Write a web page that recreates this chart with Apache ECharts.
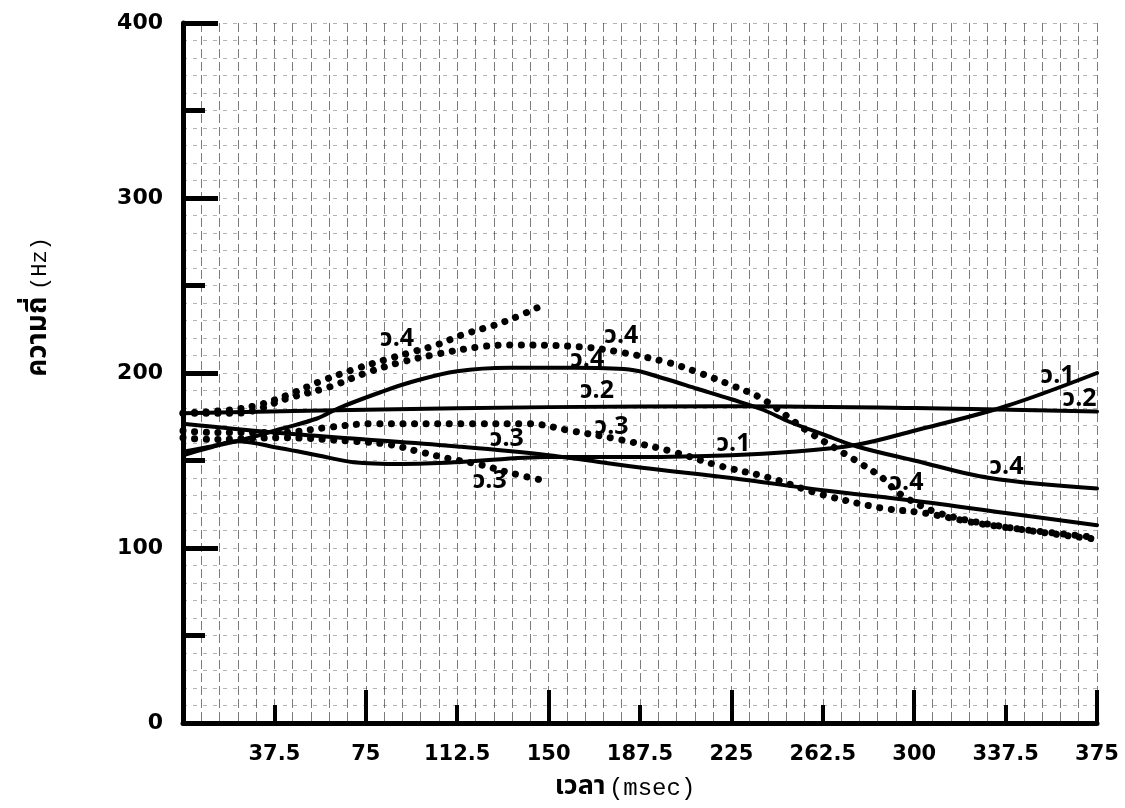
<!DOCTYPE html>
<html>
<head>
<meta charset="utf-8">
<script src="https://cdn.jsdelivr.net/npm/echarts@6/dist/echarts.min.js"></script>
<style>
html,body{margin:0;padding:0;background:#fff;}
#c{width:1125px;height:808px;}
</style>
</head>
<body>
<div id="c"></div>
<script>
// ---- data (time in msec, frequency in Hz) ----
const xTicks = [0, 37.5, 75, 112.5, 150, 187.5, 225, 262.5, 300, 337.5, 375];
const yTicks = [0, 100, 200, 300, 400];

const w1X = [0, 10, 22, 40, 55, 70, 90, 112.5, 150, 187.5, 225, 250, 276.5, 300, 337.5, 375];
const w1Y = [153, 157, 161, 157, 153, 149, 148, 149, 152, 152, 153, 155, 159, 167, 181, 200];

const w2X = [0, 75, 150, 225, 300, 375];
const w2Y = [177, 179, 180.5, 181, 180, 178];

const w3X = [0, 37.5, 75, 112.5, 150, 187.5, 225, 262.5, 300, 337.5, 375];
const w3Y = [171, 166, 162, 158, 153, 146, 140, 133, 127, 120, 113];

const w4X = [0, 22, 40, 55, 64, 81, 94, 112.5, 134, 160, 183, 197, 211, 225, 238, 249, 262.5, 276.5, 300, 331, 375];
const w4Y = [155, 161, 168, 174, 180, 189, 195, 201, 203, 203, 202, 197, 191, 185, 179, 172, 165, 158, 150, 140, 134];

const d4aX = [0, 20, 31.6, 44, 56, 70, 84, 94, 104, 115, 127, 135, 146.5];
const d4aY = [177, 179, 182, 188, 195, 202, 208, 212, 216, 222, 227, 231, 238];

const d4bX = [0, 22, 44, 60, 75, 89, 105, 122, 134, 163, 179, 199, 212, 225, 238, 256, 276, 287, 294, 310, 337.5, 375];
const d4bY = [177, 177, 186, 192, 200, 206, 211, 215, 216, 215, 212, 206, 200, 193, 185, 167, 150, 140, 131, 120, 112, 105];

const d3aX = [0, 12, 40, 60, 77, 118, 142, 159, 179, 201, 220, 241, 261, 286, 304, 331, 375];
const d3aY = [167, 166, 166, 169, 171, 171, 171, 167, 162, 155, 147, 140, 131, 123, 120, 113, 106];

const d3bX = [0, 12, 40, 70, 85, 97, 109.5, 122, 134, 146.5];
const d3bY = [163, 162, 163, 161, 159, 155, 151, 147.6, 143, 139];

const labelText = ['ว.4', 'ว.4', 'ว.4', 'ว.2', 'ว.3', 'ว.3', 'ว.3', 'ว.1', 'ว.4', 'ว.4', 'ว.1', 'ว.2'];
const labelX    = [88, 180, 166, 170, 176, 133, 126, 226, 297, 338, 359, 368];
const labelY    = [218, 220, 206, 188.5, 167.5, 161, 137, 158, 135.5, 145, 197, 183.5];

const yName = 'ความถี่';
const yUnit = '(Hz)';
const xName = 'เวลา';
const xUnit = '(msec)';

// ---- chart ----
function pairs(xs, ys) { return xs.map((x, i) => [x, ys[i]]); }

const INK = '#000';
const THAI = '"Noto Sans Thai", "Noto Sans", "DejaVu Sans", sans-serif';
const MONO = '"Liberation Mono", "DejaVu Sans Mono", monospace';

function solid(name, xs, ys) {
  return {
    name, type: 'line', xAxisIndex: 0, yAxisIndex: 0,
    data: pairs(xs, ys), smooth: 0.35, showSymbol: false, symbol: 'none',
    lineStyle: { color: INK, width: 4, cap: 'round', join: 'round' },
    z: 5, silent: true, animation: false
  };
}
function dotted(name, xs, ys) {
  return {
    name, type: 'line', xAxisIndex: 0, yAxisIndex: 0,
    data: pairs(xs, ys), smooth: 0.35, showSymbol: false, symbol: 'none',
    lineStyle: { color: INK, width: 7, type: [0.1, 11.5], cap: 'round' },
    z: 4, silent: true, animation: false
  };
}

const gridDashV = { color: '#111', width: 1, opacity: 0.55, type: [9, 4] };
const gridDashH = { color: '#222', width: 1, opacity: 0.35, type: [4, 6] };

const chart = echarts.init(document.getElementById('c'), null, { renderer: 'canvas' });
chart.setOption({
  backgroundColor: '#fff',
  animation: false,
  grid: { left: 183, right: 28, top: 23, bottom: 85, containLabel: false },
  xAxis: [
    {
      type: 'value', position: 'bottom', min: xTicks[0], max: xTicks[xTicks.length - 1], interval: 75,
      axisLine: { show: true, lineStyle: { color: INK, width: 5 } },
      axisTick: { show: true, inside: true, length: 33, lineStyle: { color: INK, width: 4 } },
      minorTick: { show: true, splitNumber: 2, length: 18, lineStyle: { color: INK, width: 4 } },
      axisLabel: { show: false },
      splitLine: { show: false },
      z: 6
    },
    {
      type: 'value', position: 'bottom', min: xTicks[0], max: xTicks[xTicks.length - 1], interval: 37.5,
      axisLine: { show: false }, axisTick: { show: false },
      axisLabel: {
        show: true, margin: 21, color: INK,
        fontFamily: '"DejaVu Sans", sans-serif', fontWeight: 'bold', fontSize: 21,
        formatter: v => (v === 0 ? '' : String(v))
      },
      splitLine: { show: true, lineStyle: gridDashV },
      minorTick: { show: false, splitNumber: 5 },
      minorSplitLine: { show: true, lineStyle: gridDashV }
    }
  ],
  yAxis: [
    {
      type: 'value', position: 'left', min: yTicks[0], max: yTicks[yTicks.length - 1], interval: 100,
      axisLine: { show: true, lineStyle: { color: INK, width: 5 } },
      axisTick: { show: true, inside: true, length: 35, lineStyle: { color: INK, width: 5 } },
      minorTick: { show: true, splitNumber: 2, length: 22, lineStyle: { color: INK, width: 5 } },
      axisLabel: {
        show: true, margin: 20, color: INK,
        fontFamily: '"DejaVu Sans", sans-serif', fontWeight: 'bold', fontSize: 22
      },
      splitLine: { show: false },
      z: 6
    },
    {
      type: 'value', position: 'left', min: yTicks[0], max: yTicks[yTicks.length - 1], interval: 50,
      axisLine: { show: false }, axisTick: { show: false }, axisLabel: { show: false },
      splitLine: { show: true, lineStyle: gridDashH },
      minorTick: { show: false, splitNumber: 5 },
      minorSplitLine: { show: true, lineStyle: gridDashH }
    }
  ],
  series: [
    solid('ว.1', w1X, w1Y),
    solid('ว.2', w2X, w2Y),
    solid('ว.3', w3X, w3Y),
    solid('ว.4', w4X, w4Y),
    dotted('ว.4 (จุด) a', d4aX, d4aY),
    dotted('ว.4 (จุด) b', d4bX, d4bY),
    dotted('ว.3 (จุด) a', d3aX, d3aY),
    dotted('ว.3 (จุด) b', d3bX, d3bY),
    {
      name: 'labels', type: 'scatter', xAxisIndex: 0, yAxisIndex: 0,
      symbol: 'circle', symbolSize: 1, itemStyle: { opacity: 0 },
      silent: true, z: 8,
      data: labelX.map((x, i) => ({ value: [x, labelY[i]], name: labelText[i] })),
      label: {
        show: true, position: [0, 0], align: 'center', verticalAlign: 'middle',
        formatter: p => p.name, opacity: 1,
        color: '#000', fontFamily: THAI, fontWeight: 'bold', fontSize: 25
      }
    }
  ],
  graphic: [
    {
      type: 'text', x: 40, y: 307, rotation: Math.PI / 2,
      style: {
        text: '{a|' + yName + '}  {b|' + yUnit + '}',
        align: 'center', verticalAlign: 'middle',
        rich: {
          a: { fontFamily: THAI, fontWeight: 'bold', fontSize: 28, fill: INK },
          b: { fontFamily: MONO, fontSize: 22, fill: INK }
        }
      }
    },
    {
      type: 'text', x: 625, y: 789,
      style: {
        text: '{a|' + xName + '} {b|' + xUnit + '}',
        align: 'center', verticalAlign: 'middle',
        rich: {
          a: { fontFamily: THAI, fontWeight: 'bold', fontSize: 27, fill: INK },
          b: { fontFamily: MONO, fontSize: 24, fill: INK }
        }
      }
    }
  ]
});
</script>
</body>
</html>
